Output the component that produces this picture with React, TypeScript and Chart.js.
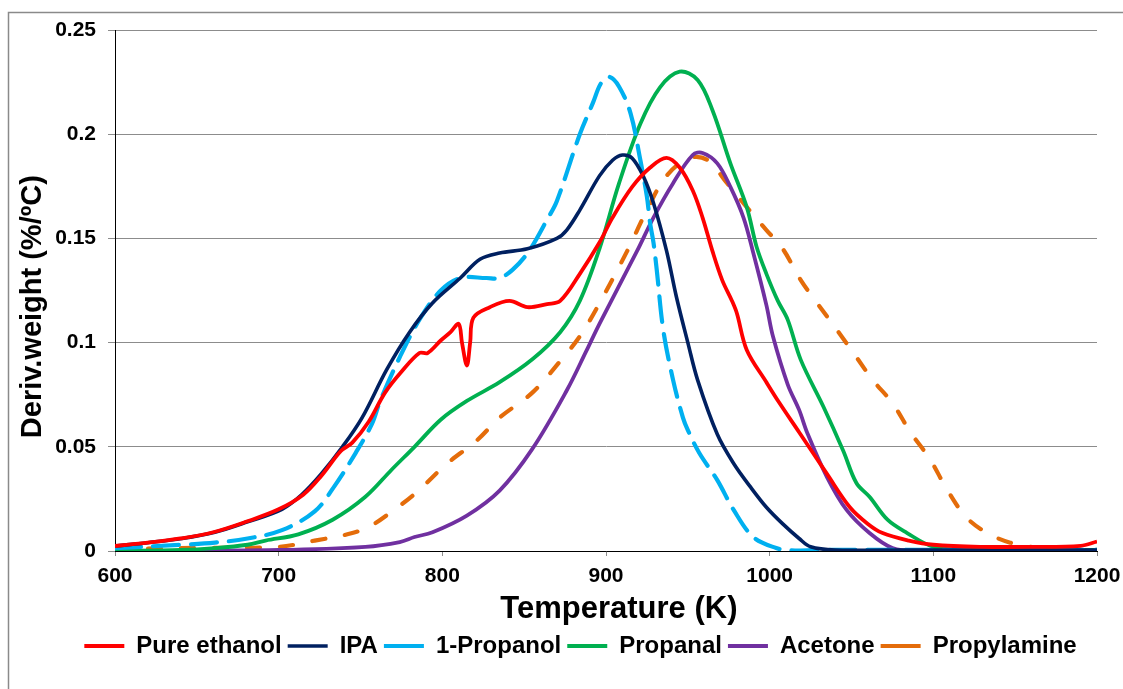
import React, { useEffect, useRef } from "react";
import { Chart, registerables } from "chart.js";

Chart.register(...registerables);

// ---------- data ----------
const ETHANOL_T = [600, 620, 640, 660, 680, 700, 715, 726, 738, 745, 755, 765, 775, 786, 791, 799, 805, 810, 812, 815, 817, 819, 829, 841, 852, 864, 872, 884, 896, 904, 916, 927, 937, 945, 953, 959, 965, 971, 977, 980, 986, 998, 1006, 1018, 1035, 1049, 1060, 1069, 1085, 1100, 1130, 1160, 1190, 1200];
const ETHANOL_V = [0.0024, 0.004, 0.006, 0.009, 0.014, 0.02, 0.027, 0.036, 0.048, 0.052, 0.062, 0.076, 0.086, 0.095, 0.095, 0.101, 0.105, 0.109, 0.1, 0.089, 0.1, 0.112, 0.117, 0.12, 0.117, 0.1185, 0.12, 0.133, 0.148, 0.16, 0.1747, 0.184, 0.1886, 0.184, 0.173, 0.16, 0.144, 0.13, 0.12, 0.114, 0.0965, 0.081, 0.071, 0.057, 0.037, 0.021, 0.013, 0.0086, 0.005, 0.003, 0.002, 0.002, 0.0025, 0.0045];

const IPA_T = [600, 620, 641, 661, 681, 702, 714, 726, 739, 751, 766, 780, 794, 811, 823, 835, 852, 870, 876, 884, 896, 904, 910, 916, 923, 929, 937, 943, 950, 956, 968, 978, 988, 998, 1008, 1018, 1025, 1040, 1100, 1200];
const IPA_V = [0.0024, 0.004, 0.006, 0.009, 0.014, 0.02, 0.027, 0.037, 0.05, 0.064, 0.087, 0.105, 0.119, 0.131, 0.14, 0.143, 0.145, 0.15, 0.154, 0.1636, 0.18, 0.1875, 0.19, 0.1885, 0.1795, 0.167, 0.144, 0.122, 0.1, 0.082, 0.056, 0.042, 0.031, 0.021, 0.013, 0.006, 0.002, 0.0005, 0.0005, 0.0005];

const PROPANOL_T = [600, 641, 661, 681, 702, 722, 734, 747, 757, 762, 774, 786, 799, 811, 827, 835, 843, 853, 864, 870, 884, 892, 897, 902, 908, 915, 921, 925, 927, 929, 931, 935, 941, 947, 950, 957, 968, 978, 990, 1004, 1012, 1030, 1100, 1200];
const PROPANOL_V = [0.0014, 0.003, 0.004, 0.006, 0.01, 0.019, 0.031, 0.047, 0.061, 0.072, 0.093, 0.111, 0.125, 0.131, 0.131, 0.131, 0.135, 0.144, 0.159, 0.168, 0.2, 0.215, 0.2245, 0.2275, 0.2228, 0.21, 0.1875, 0.17, 0.157, 0.148, 0.135, 0.106, 0.082, 0.064, 0.058, 0.047, 0.034, 0.0197, 0.0067, 0.0014, 0.0003, 0.0005, 0.0005, 0.0005];

const PROPANAL_T = [600, 640, 661, 681, 692, 712, 733, 753, 769, 783, 799, 815, 835, 855, 872, 884, 896, 908, 921, 933, 945, 956, 965, 976, 986, 992, 998, 1005, 1011, 1019, 1033, 1045, 1053, 1061, 1072, 1084, 1100, 1120, 1200];
const PROPANAL_V = [0, 0.0005, 0.0014, 0.003, 0.005, 0.008, 0.015, 0.026, 0.039, 0.05, 0.063, 0.072, 0.081, 0.092, 0.105, 0.12, 0.145, 0.1765, 0.205, 0.2225, 0.23, 0.226, 0.2116, 0.186, 0.165, 0.146, 0.133, 0.12, 0.111, 0.0917, 0.069, 0.048, 0.0326, 0.026, 0.015, 0.0086, 0.002, 0.0005, 0.0005];

const ACETONE_T = [600, 700, 753, 774, 783, 794, 815, 835, 855, 876, 888, 896, 919, 929, 941, 953, 959, 968, 976, 984, 990, 998, 1002, 1011, 1018, 1023, 1035, 1047, 1061, 1075, 1090, 1200];
const ACETONE_V = [0, 0.0005, 0.002, 0.0043, 0.0067, 0.009, 0.017, 0.029, 0.049, 0.077, 0.096, 0.109, 0.144, 0.16, 0.1765, 0.19, 0.191, 0.186, 0.1747, 0.16, 0.143, 0.118, 0.103, 0.08, 0.0677, 0.0566, 0.0355, 0.0197, 0.0086, 0.0014, 0, 0];

const PROPYLAMINE_T = [600, 650, 700, 722, 742, 755, 771, 784, 803, 821, 835, 855, 874, 884, 894, 913, 925, 937, 951, 962, 974, 986, 998, 1008, 1019, 1029, 1043, 1053, 1063, 1075, 1086, 1098, 1108, 1120, 1133, 1147, 1165, 1182, 1200];
const PROPYLAMINE_V = [0.001, 0.0015, 0.002, 0.005, 0.008, 0.0115, 0.02, 0.028, 0.042, 0.053, 0.064, 0.076, 0.093, 0.103, 0.116, 0.144, 0.1636, 0.18, 0.1886, 0.1876, 0.1765, 0.165, 0.154, 0.145, 0.13, 0.119, 0.104, 0.093, 0.082, 0.071, 0.057, 0.044, 0.03, 0.0163, 0.0086, 0.004, 0.0014, 0.0005, 0.0005];

const SERIES_NAMES = ["Pure ethanol", "IPA", "1-Propanol", "Propanal", "Acetone", "Propylamine"];
const X_TICKS = [600, 700, 800, 900, 1000, 1100, 1200];
const Y_TICKS = [0, 0.05, 0.1, 0.15, 0.2, 0.25];
const X_TITLE = "   Temperature (K)";
const Y_TITLE = "Deriv.weight (%/ºC)    ";

const FONT = "'Liberation Sans', Arial, Helvetica, sans-serif";

function pts(t: number[], v: number[]) {
  return t.map((x, i) => ({ x, y: v[i] }));
}

const frameBorder = {
  id: "frameBorder",
  beforeDraw(chart: any) {
    const ctx = chart.ctx;
    ctx.save();
    ctx.strokeStyle = "#8a8a8a";
    ctx.lineWidth = 1.5;
    ctx.beginPath();
    ctx.moveTo(8.5, chart.height + 5);
    ctx.lineTo(8.5, 12.5);
    ctx.lineTo(chart.width + 5, 12.5);
    ctx.stroke();
    ctx.restore();
  },
};

export default function App() {
  const ref = useRef<HTMLCanvasElement | null>(null);

  useEffect(() => {
    if (!ref.current) return;
    const mk = (i: number, t: number[], v: number[], color: string, width: number, dash: number[] = []) => ({
      label: SERIES_NAMES[i],
      data: pts(t, v),
      borderColor: color,
      backgroundColor: color,
      borderWidth: width,
      borderDash: dash,
      borderCapStyle: dash.length ? "round" : "butt",
      borderJoinStyle: "round",
      pointRadius: 0,
      tension: 0.35,
      fill: false,
      yAxisID: "y",
    });
    const chart = new Chart(ref.current, {
      type: "line",
      data: {
        datasets: [
          mk(0, ETHANOL_T, ETHANOL_V, "#FF0000", 3.8),
          mk(1, IPA_T, IPA_V, "#002060", 3.6),
          mk(2, PROPANOL_T, PROPANOL_V, "#00B0F0", 4.2, [26, 12]),
          mk(3, PROPANAL_T, PROPANAL_V, "#00B050", 3.8),
          mk(4, ACETONE_T, ACETONE_V, "#7030A0", 3.8),
          mk(5, PROPYLAMINE_T, PROPYLAMINE_V, "#E46C0A", 4.2, [13, 20]),
        ] as any,
      },
      options: {
        animation: false,
        responsive: false,
        devicePixelRatio: 1,
        layout: { padding: { left: 0, right: 0, top: 30, bottom: 21 } },
        plugins: {
          tooltip: { enabled: false },
          legend: {
            position: "bottom",
            labels: {
              usePointStyle: true,
              pointStyle: "line",
              pointStyleWidth: 40,
              boxWidth: 40,
              padding: 6,
              color: "#000",
              font: { family: FONT, size: 24, weight: "bold" },
            },
          },
        },
        scales: {
          x: {
            type: "linear",
            min: 600,
            max: 1200,
            afterFit: (s: any) => { s.height = 77; },
            afterBuildTicks: (s: any) => { s.ticks = X_TICKS.map((v) => ({ value: v })); },
            ticks: {
              padding: 8,
              color: "#000",
              font: { family: FONT, size: 21, weight: "bold" },
              maxRotation: 0,
              callback: (v: any) => String(v),
            },
            grid: { drawOnChartArea: false, drawTicks: true, tickLength: 5, color: "#8c8c8c", lineWidth: 1 },
            border: { display: true, color: "#000", width: 1 },
            title: {
              display: true,
              text: X_TITLE,
              color: "#000",
              font: { family: FONT, size: 31, weight: "bold", lineHeight: 1.2 },
              padding: { top: 0, bottom: 0 },
            },
          },
          y: {
            type: "linear",
            position: "left",
            min: 0,
            max: 0.25,
            afterFit: (s: any) => { s.width = 115; },
            afterBuildTicks: (s: any) => { s.ticks = Y_TICKS.map((v) => ({ value: v })); },
            ticks: {
              padding: 12,
              color: "#000",
              font: { family: FONT, size: 21, weight: "bold" },
              callback: (v: any) => String(Number(v.toFixed(2))),
            },
            grid: { drawTicks: true, tickLength: 7, color: "#8c8c8c", lineWidth: 1 },
            border: { display: true, color: "#000", width: 1 },
            title: {
              display: true,
              text: Y_TITLE,
              color: "#000",
              font: { family: FONT, size: 29, weight: "bold", lineHeight: 1.2 },
              padding: { top: 16, bottom: 0 },
            },
          },
          // empty right-hand spacer so the plot ends at the reference's right edge
          spacer: {
            type: "linear",
            position: "right",
            display: true,
            min: 0,
            max: 1,
            afterFit: (s: any) => { s.width = 64; },
            ticks: { display: false },
            grid: { display: false, drawTicks: false },
            border: { display: false },
            title: { display: false },
          },
        },
      } as any,
      plugins: [frameBorder],
    });
    return () => chart.destroy();
  }, []);

  return (
    <div style={{ position: "fixed", left: 0, top: 0, width: 1123, height: 689, overflow: "hidden", background: "#fff" }}>
      <canvas ref={ref} width={1161} height={689} style={{ display: "block", width: 1161, height: 689 }} />
    </div>
  );
}
